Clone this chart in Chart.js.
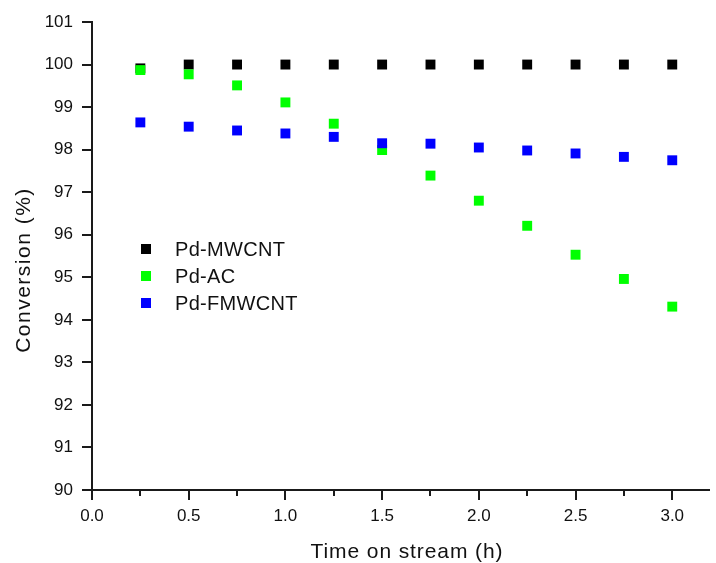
<!DOCTYPE html>
<html>
<head>
<meta charset="utf-8">
<script src="https://cdn.jsdelivr.net/npm/chart.js@4/dist/chart.umd.min.js"></script>
<style>
  html, body { margin: 0; padding: 0; background: #ffffff; }
  #wrap { width: 716px; height: 563px; }
</style>
</head>
<body>
<div id="wrap"><canvas id="c" width="716" height="563"></canvas></div>
<script>
// ---- data ----
const TIME_H = [0.25, 0.5, 0.75, 1.0, 1.25, 1.5, 1.75, 2.0, 2.25, 2.5, 2.75, 3.0];
const PD_MWCNT = [99.91, 100, 100, 100, 100, 100, 100, 100, 100, 100, 100, 100];
const PD_AC = [99.87, 99.77, 99.51, 99.11, 98.61, 97.99, 97.39, 96.80, 96.21, 95.53, 94.96, 94.31];
const PD_FMWCNT = [98.64, 98.54, 98.45, 98.38, 98.30, 98.15, 98.14, 98.05, 97.98, 97.91, 97.83, 97.75];
const SERIES_NAMES = ['Pd-MWCNT', 'Pd-AC', 'Pd-FMWCNT'];
const X_TICKS = [0, 0.5, 1.0, 1.5, 2.0, 2.5, 3.0];
const X_MINOR_TICKS = [0.25, 0.75, 1.25, 1.75, 2.25, 2.75];
const Y_TICKS = [90, 91, 92, 93, 94, 95, 96, 97, 98, 99, 100, 101];
const X_TITLE = 'Time on stream (h)';
const Y_TITLE = 'Conversion (%)';

const FONT = "'Liberation Sans', Arial, 'DejaVu Sans', sans-serif";
const COLORS = ['#000000', '#00ff00', '#0000ff'];
const AXIS_COLOR = '#1a1a1a';

function pts(ys) { return TIME_H.map((x, i) => ({ x: x, y: ys[i] })); }

const decorPlugin = {
  id: 'decor',
  afterDraw(chart) {
    const ctx = chart.ctx;
    const xs = chart.scales.x, ys = chart.scales.y;
    const area = chart.chartArea;
    ctx.save();
    ctx.strokeStyle = AXIS_COLOR;
    ctx.lineWidth = 2;
    ctx.beginPath();
    X_TICKS.forEach(v => {
      const px = Math.round(xs.getPixelForValue(v));
      ctx.moveTo(px, area.bottom); ctx.lineTo(px, area.bottom + 10);
    });
    X_MINOR_TICKS.forEach(v => {
      const px = Math.round(xs.getPixelForValue(v));
      ctx.moveTo(px, area.bottom); ctx.lineTo(px, area.bottom + 6);
    });
    Y_TICKS.forEach(v => {
      const py = Math.round(ys.getPixelForValue(v));
      ctx.moveTo(area.left, py); ctx.lineTo(area.left - 10, py);
    });
    ctx.stroke();

    // axis titles
    ctx.fillStyle = '#111111';
    ctx.font = '21px ' + FONT;
    ctx.textAlign = 'center';
    ctx.textBaseline = 'middle';
    ctx.letterSpacing = '0.9px';
    ctx.fillText(X_TITLE, 407, 552);
    ctx.save();
    ctx.translate(24, 270);
    ctx.rotate(-Math.PI / 2);
    ctx.letterSpacing = '1.5px';
    ctx.fillText(Y_TITLE, 0, 0);
    ctx.restore();

    // legend
    ctx.letterSpacing = '0.3px';
    ctx.font = '20px ' + FONT;
    ctx.textAlign = 'left';
    chart.data.datasets.forEach((ds, i) => {
      const cy = 249 + i * 27;
      ctx.fillStyle = ds.backgroundColor;
      ctx.fillRect(141, cy - 5, 10, 10);
      ctx.fillStyle = '#111111';
      ctx.fillText(ds.label, 175, cy + 1);
    });
    ctx.restore();
  }
};

new Chart(document.getElementById('c'), {
  type: 'scatter',
  data: {
    datasets: [
      { label: SERIES_NAMES[0], data: pts(PD_MWCNT), backgroundColor: COLORS[0], borderColor: COLORS[0], order: 3 },
      { label: SERIES_NAMES[1], data: pts(PD_AC), backgroundColor: COLORS[1], borderColor: COLORS[1], order: 2 },
      { label: SERIES_NAMES[2], data: pts(PD_FMWCNT), backgroundColor: COLORS[2], borderColor: COLORS[2], order: 1 }
    ]
  },
  options: {
    responsive: false,
    animation: false,
    devicePixelRatio: 1,
    layout: { padding: { top: 22, right: 0, left: 0, bottom: 0 } },
    elements: { point: { pointStyle: 'rect', radius: 7, borderWidth: 0, hoverRadius: 7 } },
    plugins: { legend: { display: false }, tooltip: { enabled: false } },
    scales: {
      x: {
        type: 'linear', min: 0, max: 3.19,
        afterFit(s) { s.height = 73; s.paddingLeft = 0; s.paddingRight = 0; },
        grid: { display: true, drawOnChartArea: false, drawTicks: false },
        border: { display: true, color: AXIS_COLOR, width: 2 },
        ticks: {
          stepSize: 0.5, padding: 16, color: '#111111', maxRotation: 0,
          autoSkip: false, includeBounds: false,
          font: { family: FONT, size: 17 },
          callback(v) { return Math.abs(v * 2 - Math.round(v * 2)) < 1e-6 ? Number(v).toFixed(1) : ''; }
        }
      },
      y: {
        type: 'linear', min: 90, max: 101,
        afterFit(s) { s.width = 92; s.paddingTop = 0; s.paddingBottom = 0; },
        grid: { display: true, drawOnChartArea: false, drawTicks: false },
        border: { display: true, color: AXIS_COLOR, width: 2 },
        ticks: {
          stepSize: 1, padding: 19, color: '#111111', autoSkip: false,
          font: { family: FONT, size: 17 },
          callback(v) { return String(v); }
        }
      }
    }
  },
  plugins: [decorPlugin]
});
</script>
</body>
</html>
